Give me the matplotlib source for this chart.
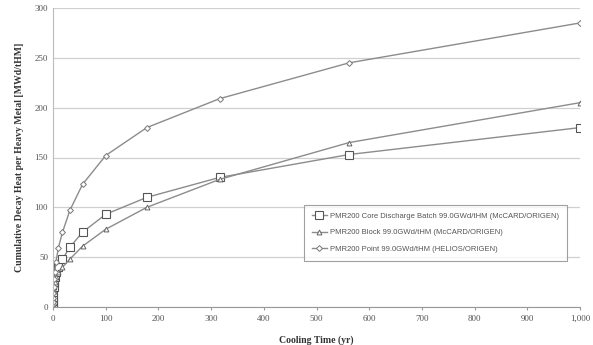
import numpy as np
import matplotlib.pyplot as plt
from matplotlib.ticker import FuncFormatter

# cooling time points (yr)
years = [0, 0.1, 0.18, 0.32, 0.56, 1, 1.8, 3.2, 5.6, 10, 18, 32, 56, 100, 178, 316, 562, 1000]

# cumulative decay heat [MWd/tHM]
core_batch = [0, 3, 6, 10, 15, 20, 25, 30, 35, 40, 48, 60, 75, 93, 110, 130, 153, 180]
block = [0, 2, 5, 8, 11, 16, 20, 25, 30, 35, 40, 48, 61, 78, 100, 128, 165, 205]
point = [0, 3, 5, 9, 14, 20, 28, 35, 45, 59, 75, 97, 123, 152, 180, 209, 245, 285]

labels = ["PMR200 Core Discharge Batch 99.0GWd/tHM (McCARD/ORIGEN)",
          "PMR200 Block 99.0GWd/tHM (McCARD/ORIGEN)",
          "PMR200 Point 99.0GWd/tHM (HELIOS/ORIGEN)"]

line_col = "#8c8c8c"
serif = ["Liberation Serif", "DejaVu Serif"]

fig = plt.figure(figsize=(5.93, 3.45), dpi=100)
ax = fig.add_axes([53 / 593, 38 / 345, 527 / 593, 299 / 345])

ax.plot(years, core_batch, color=line_col, lw=1.0, marker="s", ms=5.5,
        mfc="white", mec="#555555", mew=0.8, label=labels[0])
ax.plot(years, block, color=line_col, lw=1.0, marker="^", ms=3.5,
        mfc="white", mec="#666666", mew=0.7, label=labels[1])
ax.plot(years, point, color=line_col, lw=1.0, marker="D", ms=3,
        mfc="white", mec="#777777", mew=0.7, label=labels[2])

ax.set_xlim(0, 1000)
ax.set_ylim(0, 300)
ax.set_xticks(np.arange(0, 1001, 100))
ax.set_yticks(np.arange(0, 301, 50))
ax.xaxis.set_major_formatter(FuncFormatter(lambda v, p: f"{int(v):,}"))

ax.grid(axis="y", color="#d0d0d0", lw=0.9)
ax.set_axisbelow(True)
for s in ["top", "right"]:
    ax.spines[s].set_visible(False)
ax.spines["left"].set_color("#bbbbbb")
ax.spines["bottom"].set_color("#999999")
ax.tick_params(axis="both", length=2, color="#999999", labelsize=6.5,
               labelcolor="#555555")
ax.tick_params(axis="y", length=0)
for t in ax.get_xticklabels() + ax.get_yticklabels():
    t.set_family(serif)

ax.set_xlabel("Cooling Time (yr)", family=serif, fontweight="bold",
              fontsize=7, color="#333333", labelpad=9)
ax.set_ylabel("Cumulative Decay Heat per Heavy Metal [MWd/tHM]", family=serif,
              fontweight="bold", fontsize=7, color="#333333", labelpad=8)

leg = ax.legend(loc="upper left", bbox_to_anchor=(251 / 527, 102 / 299),
                prop={"family": ["Liberation Sans Narrow", "Liberation Sans"], "size": 5.5},
                frameon=True, fancybox=False, edgecolor="#888888",
                borderpad=1.0, labelspacing=1.2, handlelength=2.0,
                handletextpad=0.4, borderaxespad=0)
leg.get_frame().set_linewidth(0.8)
for t in leg.get_texts():
    t.set_color("#555555")

fig.savefig("out.png", dpi=100)
